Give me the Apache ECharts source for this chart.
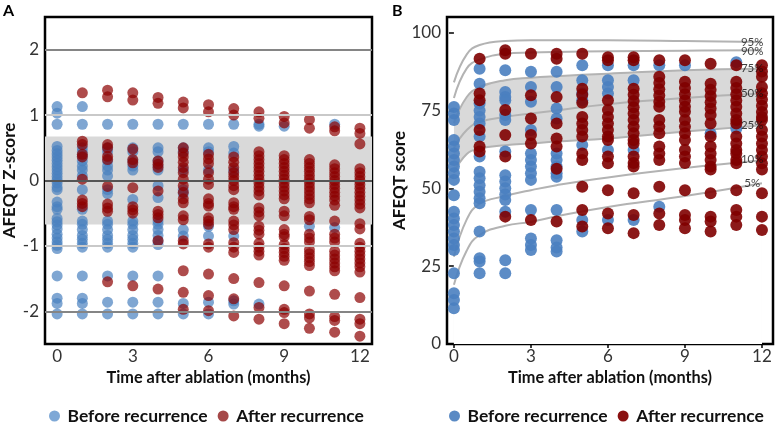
<!DOCTYPE html>
<html>
<head>
<meta charset="utf-8">
<script src="https://cdn.jsdelivr.net/npm/echarts@6/dist/echarts.min.js"></script>
<style>
  html, body { margin: 0; padding: 0; background: #fff; }
  #chart { width: 777px; height: 424px; }
</style>
</head>
<body>
<div id="chart"></div>
<script>
// months 0..12, one list of values per month
const monthTicks = [0, 3, 6, 9, 12];
const zTicks = [-2, -1, 0, 1, 2];
const scoreTicks = [0, 25, 50, 75, 100];

// Panel A: AFEQT Z-score
const zBefore = [
  [1.13, 1.03, 0.86, 0.52, 0.46, 0.41, 0.36, 0.31, 0.26, 0.21, 0.16, 0.11, 0.06, 0.01, -0.04, -0.10, -0.14, -0.33, -0.40, -0.44, -0.58, -0.63, -0.68, -0.74, -0.82, -0.88, -0.94, -0.99, -1.04, -1.46, -1.80, -1.88, -2.04],
  [1.13, 0.86, 0.50, 0.44, 0.37, 0.30, 0.22, 0.16, 0.07, -0.14, -0.44, -0.62, -0.67, -0.75, -0.84, -0.90, -0.96, -1.02, -1.46, -1.80, -1.88, -2.04],
  [0.86, 0.50, 0.44, 0.30, 0.22, 0.16, 0.07, -0.14, -0.20, -0.62, -0.67, -0.75, -0.84, -0.90, -0.96, -1.02, -1.46, -1.86, -2.04],
  [0.86, 0.50, 0.44, 0.30, 0.22, 0.16, -0.29, -0.62, -0.67, -0.75, -0.84, -0.90, -0.96, -1.02, -1.46, -1.86, -2.04],
  [0.86, 0.50, 0.44, 0.30, 0.22, 0.16, -0.08, -0.26, -0.62, -0.67, -0.75, -0.84, -0.92, -0.98, -1.46, -1.86, -2.04],
  [0.86, 0.50, 0.44, 0.16, -0.14, -0.20, -0.75, -0.85, -1.88, -2.04],
  [0.86, 0.50, 0.44, 0.16, -0.70, -0.85, -1.86, -2.04],
  [0.86, 0.52, 0.42, 0.15, -0.85, -1.84, -1.89],
  [0.86, 0.83, -1.89],
  [0.83],
  [-0.70],
  [0.86, -0.72],
  []
];
const zAfter = [
  [],
  [1.34, 0.60, 0.55, 0.40, 0.36, 0.02, -0.30, -0.35, -0.40],
  [1.38, 1.28, 0.55, 0.50, 0.37, 0.32, -0.09, -0.36, -0.42, -0.47, -1.55],
  [1.34, 1.23, 0.48, 0.32, 0.27, -0.11, -0.40, -0.45, -0.50, -1.61],
  [1.27, 1.18, 0.30, 0.25, 0.20, -0.16, -0.47, -0.52, -0.57, -0.92, -1.66],
  [1.20, 1.11, 0.50, 0.42, 0.36, 0.28, 0.20, 0.12, 0.02, -0.08, -0.18, -0.28, -0.34, -0.54, -0.60, -0.92, -0.97, -1.38, -1.71, -1.97],
  [1.16, 1.05, 0.40, 0.33, 0.26, 0.12, 0.02, -0.06, -0.28, -0.35, -0.39, -0.57, -0.62, -0.67, -0.97, -1.02, -1.43, -1.76, -1.99],
  [1.10, 1.00, 0.36, 0.28, 0.20, 0.12, 0.06, 0.00, -0.08, -0.14, -0.34, -0.40, -0.44, -0.62, -0.68, -0.75, -0.95, -1.02, -1.10, -1.50, -1.81, -2.07],
  [1.05, 0.95, 0.44, 0.38, 0.32, 0.26, 0.20, 0.14, 0.08, 0.02, -0.04, -0.10, -0.16, -0.22, -0.42, -0.48, -0.54, -0.70, -0.76, -0.82, -0.96, -1.02, -1.08, -1.14, -1.56, -1.94, -2.12],
  [0.98, 0.88, 0.38, 0.32, 0.26, 0.20, 0.14, 0.08, 0.02, -0.04, -0.10, -0.16, -0.22, -0.28, -0.47, -0.54, -0.75, -0.82, -0.86, -0.98, -1.04, -1.10, -1.16, -1.22, -1.61, -1.97, -2.02, -2.19],
  [0.93, 0.80, 0.32, 0.26, 0.20, 0.14, 0.08, 0.02, -0.04, -0.10, -0.16, -0.22, -0.28, -0.34, -0.55, -0.60, -0.82, -0.88, -0.94, -1.06, -1.12, -1.18, -1.24, -1.30, -1.69, -2.04, -2.10, -2.26],
  [0.82, 0.76, 0.24, 0.18, 0.12, 0.06, 0.00, -0.06, -0.12, -0.18, -0.24, -0.30, -0.38, -0.62, -0.82, -0.88, -0.94, -1.08, -1.14, -1.20, -1.26, -1.32, -1.38, -1.74, -2.08, -2.14, -2.32],
  [0.80, 0.72, 0.56, 0.18, 0.12, 0.06, 0.00, -0.06, -0.12, -0.18, -0.24, -0.30, -0.36, -0.42, -0.66, -0.74, -0.96, -1.02, -1.08, -1.14, -1.20, -1.26, -1.32, -1.40, -1.79, -2.12, -2.19, -2.38]
];
const zBand = [-0.674, 0.674];

// Panel B: AFEQT score
const sBefore = [
  [76.1, 74, 71.9, 65.5, 63.4, 61.2, 59.1, 57, 54.8, 52.7, 47.8, 42.5, 40.3, 38.2, 36.1, 33.9, 31.8, 30.2, 22.7, 16.3, 14.1, 11.5],
  [88.4, 83.6, 77.2, 75, 72.9, 70.8, 66.6, 60.2, 55.3, 53.2, 51, 48.9, 46.8, 45.2, 36.1, 27.5, 26.5, 22.7],
  [87.9, 80.9, 79.3, 78.3, 73.5, 71.9, 61.8, 54.2, 52.2, 50, 48, 46.2, 42.5, 26.9, 22.7],
  [87.4, 82.5, 77.8, 68.7, 61.2, 59.1, 57, 54.8, 52.7, 43, 33.9, 31.8, 30.2],
  [87.4, 82.5, 75.6, 72.4, 61.2, 59.1, 57, 54.8, 53.7, 43, 33.3, 31, 29.7],
  [89.5, 84.7, 80.4, 78.3, 63.9, 39.8, 36.1],
  [89.5, 84.7, 82.5, 80.4, 62.3, 39.8],
  [89.5, 84.7, 62.3, 39.8],
  [89.5, 44.1],
  [89.5],
  [67.6],
  [90.5, 69.2],
  []
];
const sAfter = [
  [],
  [91.6, 80.4, 78.3, 68.7, 63.4, 61.8],
  [94.3, 93.2, 75.1, 67.1, 60.2, 40.9],
  [93.2, 79.9, 72.4, 67.1, 64.4, 39.8],
  [93.2, 91.6, 79.3, 70.8, 66, 63.4, 56.3, 39.3],
  [93.2, 82, 80, 77.5, 72.9, 70.8, 68.7, 66.6, 61.2, 59.1, 50.5, 43, 37.7],
  [92.1, 91.1, 78.3, 75.1, 72.9, 70.8, 68.7, 66.6, 65.5, 60.2, 58, 49.4, 41.9, 37.2],
  [92.1, 91.1, 82, 80, 78, 76, 74, 71.9, 69.8, 67.7, 65.5, 64.4, 60.2, 58.1, 57, 48.4, 41.4, 35.6],
  [91.1, 85.8, 83.8, 81.8, 79.8, 77.8, 76.2, 71.9, 69.8, 67.7, 63.4, 61.2, 59.1, 50.5, 41.9, 38.2],
  [91.1, 84.2, 82.2, 80.2, 78.2, 76.2, 74.6, 71.9, 69.8, 67.7, 65.5, 62.3, 60.2, 58.1, 49.4, 41.4, 39.8, 37.2],
  [90, 83.6, 81.6, 79.6, 77.6, 75.6, 73.5, 70.8, 66.6, 63.4, 61.2, 59.1, 57, 56, 48.4, 40.9, 39.3, 36.1],
  [89.5, 84.2, 82.2, 80.2, 78.2, 76.2, 74, 71.9, 70.8, 66.6, 64.4, 62.3, 61.2, 59.1, 58, 49.4, 43, 40.9, 38.2],
  [89.5, 87.5, 85.8, 82.5, 80.5, 78.5, 76.5, 74.5, 72.9, 71.9, 68.7, 66.6, 64.4, 62.3, 60.2, 58, 56, 48.4, 40.9, 36.6]
];

// percentile reference curves (panel B)
const pctMonths = [0, 0.5, 1, 2, 3, 4, 6, 9, 12];
const pct95 = [84, 93, 96, 97.3, 97.5, 97.5, 97.5, 97.3, 97];
const pct90 = [79, 88.5, 91.3, 93.2, 93.6, 93.8, 94, 94.2, 94.3];
const pct75 = [71, 79.3, 82.5, 84.7, 85.5, 86, 86.8, 87.9, 88.4];
const pct50 = [63, 68.7, 71.3, 72.9, 74, 75, 77, 79, 80.4];
const pct25 = [55, 61, 62.8, 63.8, 64.4, 65, 66, 68.2, 70.2];
const pct10 = [28, 40, 45, 47.5, 49.4, 51, 53.5, 56.5, 59];
const pct5 = [19, 30, 35, 38, 39.2, 41, 44, 47.5, 51.6];
const pctNames = ['95%', '90%', '75%', '50%', '25%', '10%', '5%'];
const pctLabelY = [97.0, 94.1, 88.5, 80.6, 70.3, 59.4, 51.7];
const pctLabelX = 11.62;

const FONT = 'Lato';
const toPoints = cols => cols.flatMap((vals, m) => vals.map(v => [m, v]));
const pair = ys => pctMonths.map((m, i) => [m, ys[i]]);

const curveStyle = { color: '#b3b3b3', width: 2 };
function curve(ys, extra) {
  return Object.assign({
    type: 'line', xAxisIndex: 1, yAxisIndex: 1, data: pair(ys),
    smooth: 0.45, symbol: 'none', lineStyle: curveStyle, silent: true, z: 2
  }, extra || {});
}

const legendText = { fontFamily: FONT, fontWeight: 'bold', fontSize: 17.5, color: '#111' };

const myChart = echarts.init(document.getElementById('chart'));
myChart.setOption({
  animation: false,
  textStyle: { fontFamily: FONT },
  graphic: [
    { type: 'text', left: 3, top: 3, style: { text: 'A', font: 'bold 16px Lato', fill: '#000' } },
    { type: 'text', left: 392, top: 3, style: { text: 'B', font: 'bold 16px Lato', fill: '#000' } }
  ],
  grid: [
    { left: 45, top: 17, width: 327, height: 327, show: true, borderColor: '#000', borderWidth: 2.5 },
    { left: 447, top: 17, width: 326, height: 327, show: true, borderColor: '#000', borderWidth: 2.5 }
  ],
  legend: [
    {
      left: 49, top: 407, padding: 0, itemWidth: 16, itemHeight: 11, itemGap: 10, icon: 'circle',
      textStyle: legendText,
      data: [
        { name: 'Before recurrence', itemStyle: { color: '#7ea8d6', opacity: 1 } },
        { name: 'After recurrence', itemStyle: { color: '#a54848', opacity: 1 } }
      ]
    },
    {
      left: 449, top: 407, padding: 0, itemWidth: 16, itemHeight: 11, itemGap: 10, icon: 'circle',
      textStyle: legendText,
      data: [
        { name: 'Before recurrence', itemStyle: { color: '#5a8ac4', opacity: 1 } },
        { name: 'After recurrence', itemStyle: { color: '#8a1111', opacity: 1 } }
      ]
    }
  ],
  xAxis: [0, 1].map(i => ({
    gridIndex: i, type: 'value', min: i === 0 ? -0.48 : -0.27, max: i === 0 ? 12.48 : 12.43,
    name: 'Time after ablation (months)', nameLocation: 'middle', nameGap: 24,
    nameTextStyle: { fontFamily: FONT, fontWeight: 'bold', fontSize: 16.3, color: '#111' },
    axisLine: { show: false },
    axisTick: { show: true, customValues: monthTicks, length: 4, lineStyle: { color: '#000', width: 1.5 } },
    axisLabel: { customValues: monthTicks, fontSize: 17, color: '#333', margin: 4 },
    splitLine: { show: false }
  })),
  yAxis: [
    {
      gridIndex: 0, type: 'value', min: -2.5, max: 2.5,
      name: 'AFEQT Z-score', nameLocation: 'middle', nameGap: 27,
      nameTextStyle: { fontFamily: FONT, fontWeight: 'bold', fontSize: 17, color: '#111' },
      axisLine: { show: false },
      axisTick: { show: true, customValues: zTicks, length: 4, lineStyle: { color: '#000', width: 1.5 } },
      axisLabel: { customValues: zTicks, fontSize: 17, color: '#333', margin: 6 },
      splitLine: { show: false }
    },
    {
      gridIndex: 1, type: 'value', min: 0, max: 105,
      name: 'AFEQT score', nameLocation: 'middle', nameGap: 38,
      nameTextStyle: { fontFamily: FONT, fontWeight: 'bold', fontSize: 17, color: '#111' },
      axisLine: { show: false },
      axisTick: { show: true, customValues: scoreTicks, length: 5, lineStyle: { color: '#000', width: 1.5 } },
      axisLabel: { customValues: scoreTicks, fontSize: 17, color: '#333', margin: 6 },
      splitLine: { show: false }
    }
  ],
  series: [
    // panel A reference band and lines
    {
      type: 'line', xAxisIndex: 0, yAxisIndex: 0, data: [], silent: true, z: 1,
      markArea: {
        silent: true, itemStyle: { color: '#d9d9d9' },
        data: [[{ yAxis: zBand[0] }, { yAxis: zBand[1] }]]
      },
      markLine: {
        silent: true, symbol: 'none', label: { show: false },
        data: zTicks.map(t => ({
          yAxis: t,
          lineStyle: {
            type: 'solid',
            color: t === 0 ? '#555' : (Math.abs(t) === 2 ? '#858585' : '#c9c9c9'),
            width: t === 0 ? 2 : 1.8
          }
        }))
      }
    },
    {
      name: 'Before recurrence', type: 'scatter', xAxisIndex: 0, yAxisIndex: 0,
      data: toPoints(zBefore), symbolSize: 11, z: 3,
      itemStyle: { color: '#4880bf', opacity: 0.7 }
    },
    {
      name: 'After recurrence', type: 'scatter', xAxisIndex: 0, yAxisIndex: 0,
      data: toPoints(zAfter), symbolSize: 11, z: 3,
      itemStyle: { color: '#8b0000', opacity: 0.7 }
    },
    // panel B: band between 25% and 75% curves
    curve(pct75, { areaStyle: { color: '#d9d9d9', opacity: 1, origin: 'start' }, z: 1 }),
    curve(pct25, { areaStyle: { color: '#ffffff', opacity: 1, origin: 'start' }, z: 1 }),
    curve(pct95), curve(pct90), curve(pct50), curve(pct10), curve(pct5),
    {
      name: 'Before recurrence', type: 'scatter', xAxisIndex: 1, yAxisIndex: 1,
      data: toPoints(sBefore), symbolSize: 12, z: 3,
      itemStyle: { color: '#4a80c0', opacity: 0.9 }
    },
    {
      name: 'After recurrence', type: 'scatter', xAxisIndex: 1, yAxisIndex: 1,
      data: toPoints(sAfter), symbolSize: 12, z: 3,
      itemStyle: { color: '#800000', opacity: 0.9 }
    },
    {
      type: 'scatter', xAxisIndex: 1, yAxisIndex: 1, silent: true, z: 4,
      data: pctNames.map((n, i) => [pctLabelX, pctLabelY[i], n]),
      symbolSize: 1, itemStyle: { color: 'rgba(0,0,0,0)' },
      label: {
        show: true, position: 'inside', formatter: p => p.data[2],
        fontFamily: FONT, fontSize: 11.5, color: '#111'
      }
    }
  ]
});
</script>
</body>
</html>
